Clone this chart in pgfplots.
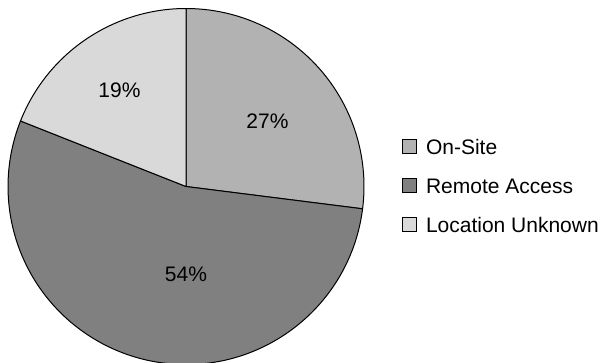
\documentclass[border=0pt]{standalone}
\usepackage{fontspec}
\setmainfont{Liberation Sans}
\usepackage{pgfplots}
\usepackage{pgfplotstable}
\pgfplotsset{compat=1.18}

\definecolor{onsite}{HTML}{B2B2B2}
\definecolor{remote}{HTML}{808080}
\definecolor{unknown}{HTML}{D9D9D9}

% share of incidents by location, in percent
\pgfplotstableread{
share
27
54
19
}\piedata

\begin{document}
\begin{tikzpicture}
\useasboundingbox (0,0) rectangle (602pt,362pt);
% slice boundaries, clockwise from 12 o'clock
\pgfplotstablegetelem{0}{share}\of\piedata \pgfmathtruncatemacro\sA{\pgfplotsretval}
\pgfplotstablegetelem{1}{share}\of\piedata \pgfmathtruncatemacro\sB{\pgfplotsretval}
\pgfplotstablegetelem{2}{share}\of\piedata \pgfmathtruncatemacro\sC{\pgfplotsretval}
\pgfmathsetmacro\angA{90}
\pgfmathsetmacro\angB{\angA-3.6*\sA}
\pgfmathsetmacro\angC{\angB-3.6*\sB}
\pgfmathsetmacro\angD{\angC-3.6*\sC}
\begin{axis}[
  at={(0,0)}, anchor=origin,
  x=1pt, y=1pt,
  xmin=0, xmax=602, ymin=0, ymax=362,
  hide axis, clip=true,
  legend style={
    draw=none, fill=none,
    at={(0.6678,0.6155)}, anchor=north west,
    inner sep=0pt, outer sep=0pt,
    font=\fontsize{21}{25}\selectfont,
    row sep=24pt, column sep=9pt,
    nodes={inner sep=0pt, text height=15pt, text depth=0pt},
  },
  legend cell align=left,
  legend image code/.code={%
    \draw[#1, line width=1pt] (0pt,-7pt) rectangle (14pt,7pt);},
]
\addlegendimage{fill=onsite, draw=black}
\addlegendentry{On-Site}
\addlegendimage{fill=remote, draw=black}
\addlegendentry{Remote Access}
\addlegendimage{fill=unknown, draw=black}
\addlegendentry{Location Unknown}

\filldraw[fill=onsite, draw=black, line width=1pt, line join=round]
  (axis cs:186,175.5) -- ++(\angA:178pt) arc[start angle=\angA, end angle=\angB, radius=178pt] -- cycle;
\filldraw[fill=remote, draw=black, line width=1pt, line join=round]
  (axis cs:186,175.5) -- ++(\angB:178pt) arc[start angle=\angB, end angle=\angC, radius=178pt] -- cycle;
\filldraw[fill=unknown, draw=black, line width=1pt, line join=round]
  (axis cs:186,175.5) -- ++(\angC:178pt) arc[start angle=\angC, end angle=\angD, radius=178pt] -- cycle;

\node[font=\fontsize{21}{25}\selectfont, inner sep=0pt] at (axis cs:267.5,241) {\sA\%};
\node[font=\fontsize{21}{25}\selectfont, inner sep=0pt] at (axis cs:186,88) {\sB\%};
\node[font=\fontsize{21}{25}\selectfont, inner sep=0pt] at (axis cs:119.5,272) {\sC\%};
\end{axis}
\end{tikzpicture}
\end{document}
